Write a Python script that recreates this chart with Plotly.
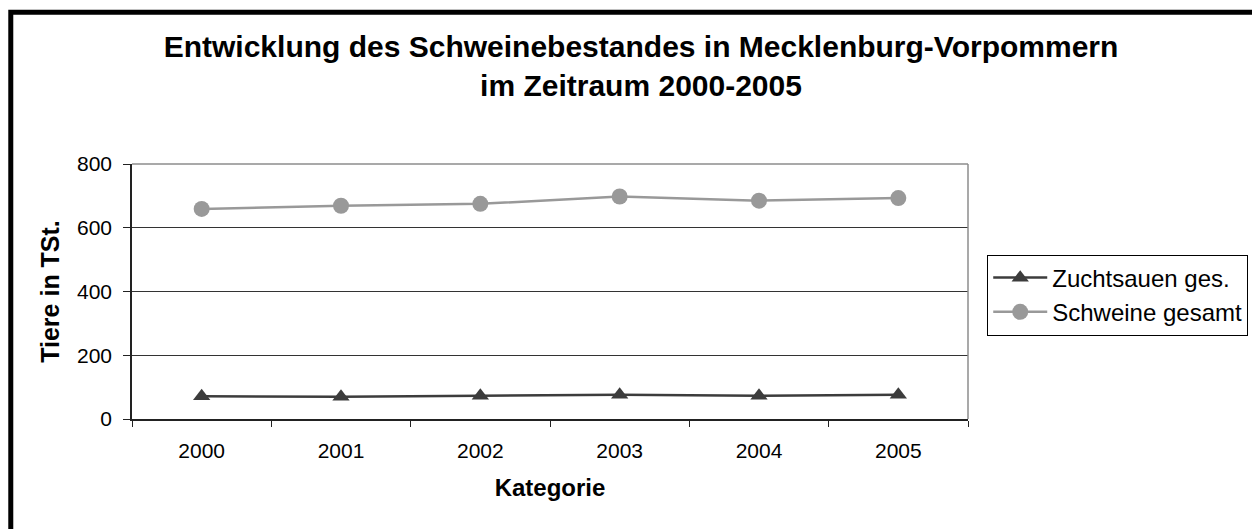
import plotly.graph_objects as go

years = ["2000", "2001", "2002", "2003", "2004", "2005"]
zuchtsauen = [71, 70, 73, 76, 73, 76]
schweine = [659, 669, 675, 698, 685, 693]

fig = go.Figure()
fig.add_trace(go.Scatter(x=years, y=zuchtsauen, name="Zuchtsauen ges.", mode="lines+markers",
                         line=dict(color="#3c3c3c", width=2.5),
                         marker=dict(symbol="triangle-up", size=15, color="#3c3c3c")))
fig.add_trace(go.Scatter(x=years, y=schweine, name="Schweine gesamt", mode="lines+markers",
                         line=dict(color="#999999", width=2.5),
                         marker=dict(symbol="circle", size=16, color="#999999")))

# gray plot frame (top and right) and outer chart border (black)
fig.add_shape(type="line", xref="paper", yref="paper", x0=0, y0=1, x1=1, y1=1,
              line=dict(color="#8c8c8c", width=1.5), layer="above")
fig.add_shape(type="line", xref="paper", yref="paper", x0=1, y0=0, x1=1, y1=1,
              line=dict(color="#8c8c8c", width=1.5), layer="above")
fig.add_shape(type="rect", xref="paper", yref="paper", x0=-0.145, y0=-1, x1=1.5, y1=1.595,
              line=dict(color="black", width=5))

fig.update_layout(
    width=1252, height=521,
    margin=dict(l=124, r=292, t=156, b=110, autoexpand=False),
    paper_bgcolor="white", plot_bgcolor="white",
    font=dict(family="Liberation Sans, Arial", size=21, color="black"),
    title=dict(text="<b>Entwicklung des Schweinebestandes in Mecklenburg-Vorpommern<br>im Zeitraum 2000-2005</b>",
               x=0.5056, xanchor="center", y=0.905, yanchor="top",
               font=dict(size=30)),
    showlegend=True,
    legend=dict(x=1.023, xanchor="left", y=0.645, yanchor="top",
                bordercolor="black", borderwidth=1, bgcolor="white",
                font=dict(size=24), tracegroupgap=0, itemwidth=54),
    xaxis=dict(type="category", range=[-0.5, 5.5], showgrid=False,
               showline=True, linecolor="#222222", linewidth=1.5,
               ticks="outside", tickson="boundaries", ticklen=6, tickcolor="#222222",
               ticklabelstandoff=12,
               title=dict(text="<b>Kategorie</b>", font=dict(size=24), standoff=18)),
    yaxis=dict(range=[0, 800], dtick=200, showgrid=True, gridcolor="#333333", gridwidth=1,
               showline=True, linecolor="#222222", linewidth=1.5,
               ticks="outside", ticklen=7, tickcolor="#222222", zeroline=False,
               ticklabelstandoff=7,
               title=dict(text="<b>Tiere in TSt.</b>", font=dict(size=25), standoff=10)),
)

fig.write_html("out.html")
